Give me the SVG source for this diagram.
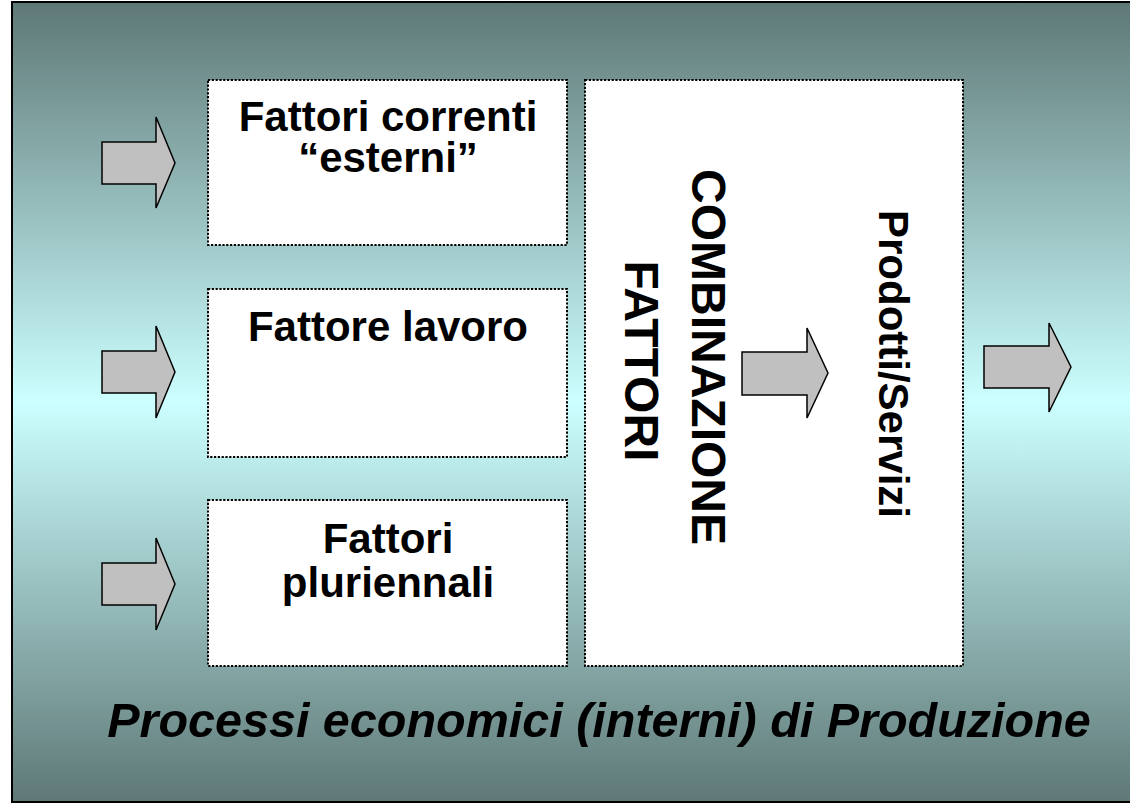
<svg xmlns="http://www.w3.org/2000/svg" width="1130" height="804" viewBox="0 0 1130 804">
<defs>
<linearGradient id="bg" x1="0" y1="0" x2="0" y2="1">
<stop offset="0" stop-color="#5e7876"/>
<stop offset="0.5" stop-color="#ccffff"/>
<stop offset="1" stop-color="#5e7876"/>
</linearGradient>
</defs>
<style>
.box{fill:#ffffff;stroke:#000;stroke-width:2;stroke-dasharray:2.2 1.6}
.arr{fill:#c0c0c0;stroke:#000;stroke-width:1.5;stroke-linejoin:miter}
.t{font-family:"Liberation Sans",Arial,sans-serif;font-weight:bold;font-size:42px;fill:#000;text-anchor:middle}
.cap{font-family:"Liberation Sans",Arial,sans-serif;font-weight:bold;font-style:italic;font-size:48.5px;fill:#000;text-anchor:middle}
</style>
<rect x="12" y="2" width="1130" height="800" fill="url(#bg)" stroke="#000" stroke-width="2"/>
<g id="node-correnti">
<rect class="box" x="208" y="80" width="359" height="165"/>
<text class="t" x="388" y="131">Fattori correnti</text>
<text class="t" x="388" y="172">“esterni”</text>
</g>
<g id="node-lavoro">
<rect class="box" x="208" y="289" width="359" height="168"/>
<text class="t" x="388" y="341">Fattore lavoro</text>
</g>
<g id="node-pluriennali">
<rect class="box" x="208" y="500" width="359" height="166"/>
<text class="t" x="388" y="553">Fattori</text>
<text class="t" x="388" y="597">pluriennali</text>
</g>
<g id="node-combinazione">
<rect class="box" x="585" y="80" width="378" height="586"/>
<text class="t" style="font-size:48px" transform="translate(692,357) rotate(90)">COMBINAZIONE</text>
<text class="t" style="font-size:48px" transform="translate(625,361) rotate(90)">FATTORI</text>
<text class="t" transform="translate(879,364) rotate(90)">Prodotti/Servizi</text>
</g>
<g id="connectors">
<path class="arr" d="M102,142 H156 V117 L175,163 L156,208 V184 H102 Z"/>
<path class="arr" d="M102,351 H156 V326 L175,372 L156,418 V393 H102 Z"/>
<path class="arr" d="M102,563 H156 V538 L175,584 L156,630 V605 H102 Z"/>
<path class="arr" d="M742,352 H807 V328 L828,373 L807,418 V395 H742 Z"/>
<path class="arr" d="M984,346 H1049 V323 L1071,367 L1049,412 V388 H984 Z"/>
</g>
<g id="caption">
<text class="cap" x="599" y="737">Processi economici (interni) di Produzione</text>
</g>
</svg>
